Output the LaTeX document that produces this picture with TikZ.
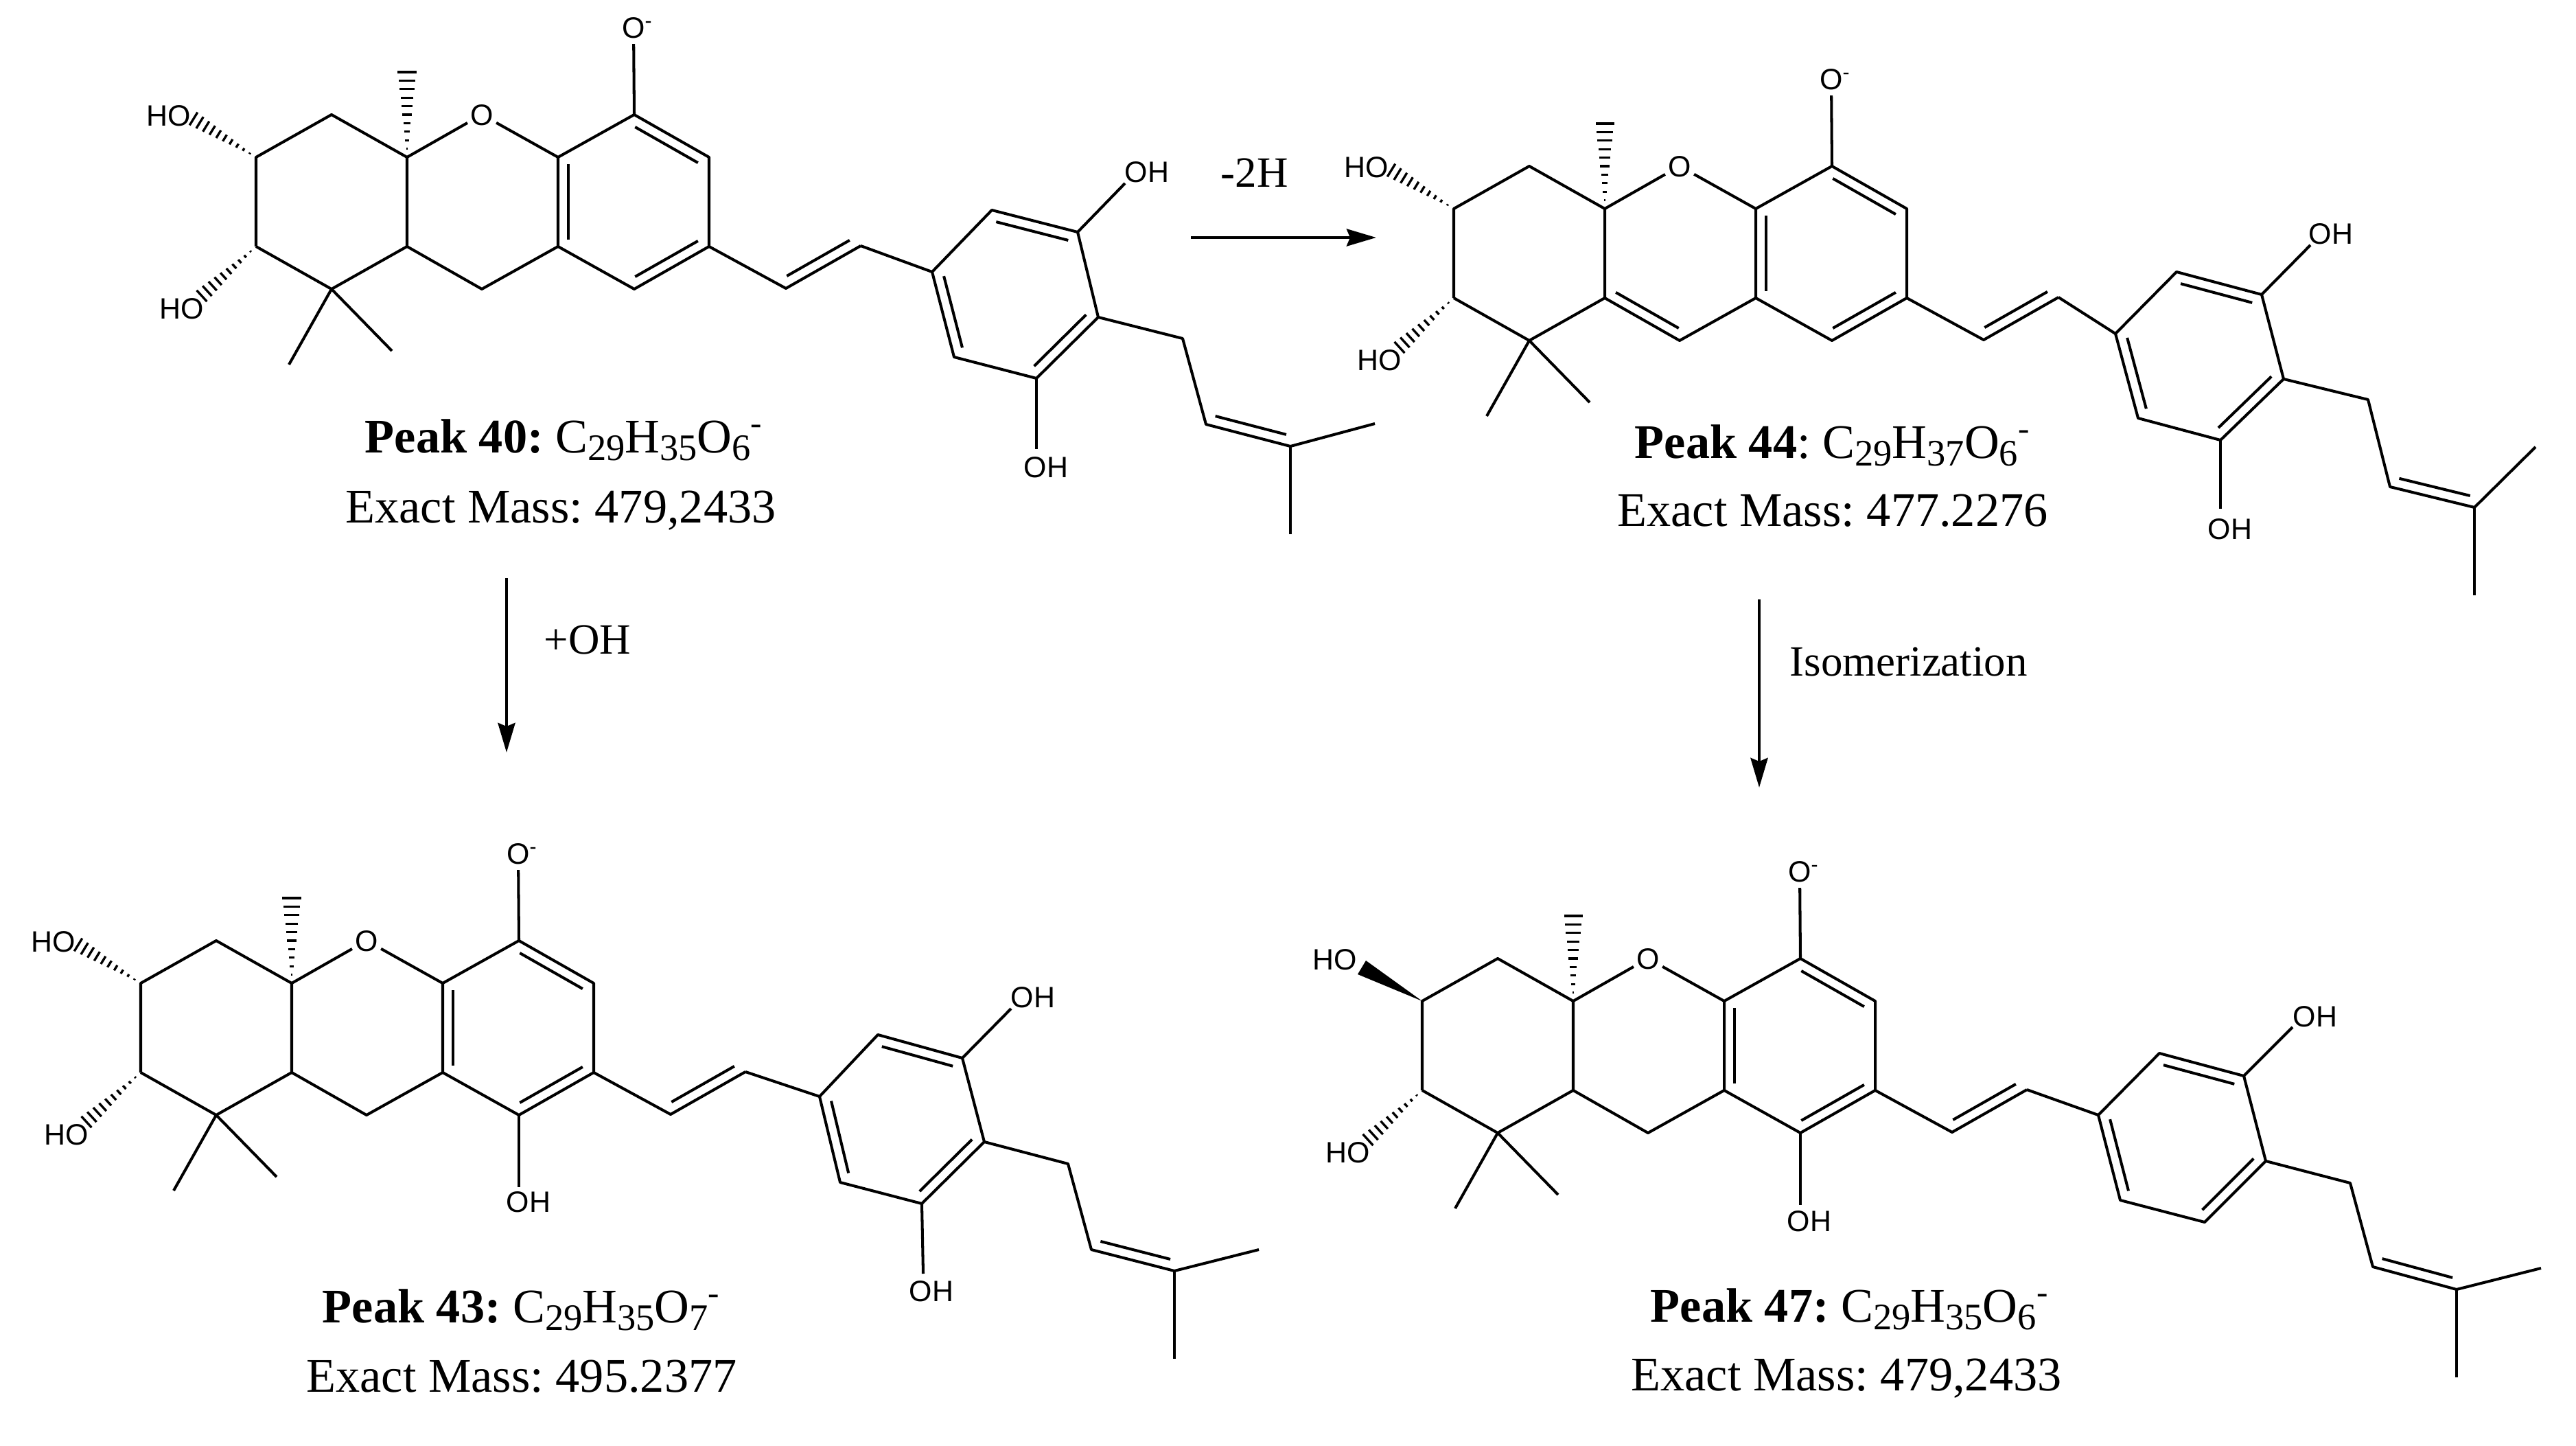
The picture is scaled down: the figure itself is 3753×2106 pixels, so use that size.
\documentclass[tikz,border=0pt]{standalone}
\usepackage{fontspec}
\setmainfont{Liberation Serif}
\newfontfamily\atomfont{Liberation Sans}
\usetikzlibrary{calc,arrows.meta}
\frenchspacing

\tikzset{
  bondline/.style={line width=1.15pt,line join=round},
  hashline/.style={line width=.95pt},
  atomlbl/.style={inner sep=0pt,text height=.31cm,text depth=0pt,font=\atomfont\fontsize{12.2}{14}\selectfont},
  ringatom/.style={atomlbl,circle,minimum size=.47cm},
  masslbl/.style={inner sep=0pt,anchor=base,font=\fontsize{20}{24}\selectfont},
  steplbl/.style={inner sep=0pt,anchor=base west,font=\fontsize{17.9}{21}\selectfont},
  steparrow/.style={line width=1.3pt,-{Stealth[length=.43cm,width=.25cm,inset=.05cm]}}
}

\newcommand{\subnum}[1]{\raisebox{-.11cm}{\fontsize{15.5}{16}\selectfont #1}}
\newcommand{\dbl}[2]{\draw[bondline] ($(#1)!.08!(#2)!.15cm!-90:(#2)$) -- ($(#2)!.08!(#1)!.15cm!90:(#1)$);}
\newcommand{\hashbond}[3]{\foreach \t in {.1,.2,...,1}{\draw[hashline] ($(#1)!\t!(#2)!\t*#3!90:(#1)$) -- ($(#1)!\t!(#2)!\t*#3!-90:(#1)$);}}

\newcommand{\coremol}[1]{%
\begin{scope}[shift={(#1)}]
\foreach \nm/\pos in {c1/{-220,0},c2/{-110,-62},c3/{0,0},c4/{220,0},c5/{331,-62},c6/{440,0},c7/{440,130},c8/{331,192},c9/{220,130},c10/{109,192},c11/{0,130},c12/{-110,192},c13/{-220,130},mec/{0,-124},me1/{-172,302},me2/{-22,282},hae/{-311,-56},hbe/{-299,202},v1/{552,191},v2/{661,129},c8e/{331,297}}{\coordinate (\nm) at (\pos);}
\node[ringatom] (oring) at (109,-62) {O};
\node[ringatom] (oanion) at (330,-189) {O\rlap{\textsuperscript{-}}};
\node[atomlbl] (hoa) at (-347,-61) {HO};
\node[atomlbl] (hob) at (-328,220) {HO};
\end{scope}
\draw[bondline] (c13) -- (c1) -- (c2) -- (c3) -- (c11) -- (c12) -- (c13);
\draw[bondline] (c3) -- (oring) -- (c4) -- (c5) -- (c6) -- (c7) -- (c8) -- (c9) -- (c4);
\draw[bondline] (c11) -- (c10) -- (c9);
\draw[bondline] (c5) -- (oanion);
\draw[bondline] (me1) -- (c12) -- (me2);
\draw[bondline] (c7) -- (v1) -- (v2);
\dbl{c5}{c6}
\dbl{c7}{c8}
\dbl{c9}{c4}
\dbl{v2}{v1}
\hashbond{c3}{mec}{.135cm}
\hashbond{c13}{hbe}{.11cm}
}

\newcommand{\sidering}{%
\draw[bondline] (v2) -- (r1) -- (r2) -- (r3) -- (r4) -- (r5) -- (r6) -- (r1);
\draw[bondline] (r3) -- (ohe);
\draw[bondline] (r4) -- (p1) -- (p2) -- (p3) -- (p4);
\draw[bondline] (p3) -- (p5);
\dbl{r2}{r3}
\dbl{r4}{r5}
\dbl{r6}{r1}
\dbl{p3}{p2}
}

\begin{document}
\begin{tikzpicture}[x=0.01cm,y=-0.01cm]
\useasboundingbox (0,0) rectangle (3753,2106);

\begin{scope}[name prefix=a-]
\coremol{593,229}
\foreach \nm/\pos in {r1/{1358,396},r2/{1445,306},r3/{1570,338},r4/{1600,462},r5/{1510,551},r6/{1390,520},ohe/{1639,267},oe/{1510,654},p1/{1723,493},p2/{1757,618},p3/{1880,650},p4/{2003,617},p5/{1880,778}}{\coordinate (\nm) at (\pos);}
\sidering
\hashbond{c1}{hae}{.11cm}
\draw[bondline] (r5) -- (oe);
\node[atomlbl] (oh1) at (1671,250) {OH};
\node[atomlbl] (oh2) at (1524,680) {OH};
\node[masslbl] (peak) at (822,659) {\textbf{Peak 40:} C\subnum{29}H\subnum{35}O\subnum{6}\textsuperscript{-}};
\node[masslbl] (mass) at (817,761) {Exact Mass: 479,2433};
\end{scope}

\begin{scope}[name prefix=b-]
\coremol{2338,304}
\foreach \nm/\pos in {r1/{3082,486},r2/{3171,396},r3/{3295,429},r4/{3327,552},r5/{3235,641},r6/{3115,609},ohe/{3366,357},oe/{3235,741},p1/{3450,582},p2/{3482,709},p3/{3605,739},p4/{3694,651},p5/{3605,867}}{\coordinate (\nm) at (\pos);}
\sidering
\hashbond{c1}{hae}{.11cm}
\dbl{c10}{c11}
\draw[bondline] (r5) -- (oe);
\node[atomlbl] (oh1) at (3396,340) {OH};
\node[atomlbl] (oh2) at (3249,770) {OH};
\node[masslbl] (peak) at (2670,667) {\textbf{Peak 44}: C\subnum{29}H\subnum{37}O\subnum{6}\textsuperscript{-}};
\node[masslbl] (mass) at (2670,766) {Exact Mass: 477.2276};
\end{scope}

\begin{scope}[name prefix=c-]
\coremol{425,1432}
\foreach \nm/\pos in {r1/{1194,1597},r2/{1279,1507},r3/{1402,1541},r4/{1434,1663},r5/{1343,1753},r6/{1224,1722},ohe/{1473,1469},oe/{1345,1855},p1/{1556,1695},p2/{1590,1820},p3/{1711,1851},p4/{1834,1820},p5/{1711,1979}}{\coordinate (\nm) at (\pos);}
\sidering
\hashbond{c1}{hae}{.11cm}
\draw[bondline] (r5) -- (oe);
\draw[bondline] (c8) -- (c8e);
\node[atomlbl] (oh1) at (1505,1452) {OH};
\node[atomlbl] (oh2) at (1357,1880) {OH};
\node[atomlbl] (oh3) at (770,1750) {OH};
\node[masslbl] (peak) at (760,1926) {\textbf{Peak 43:} C\subnum{29}H\subnum{35}O\subnum{7}\textsuperscript{-}};
\node[masslbl] (mass) at (760,2027) {Exact Mass: 495.2377};
\end{scope}

\begin{scope}[name prefix=d-]
\coremol{2292,1458}
\foreach \nm/\pos in {r1/{3057,1624},r2/{3146,1534},r3/{3269,1567},r4/{3301,1691},r5/{3212,1780},r6/{3089,1748},ohe/{3340,1496},p1/{3424,1723},p2/{3457,1845},p3/{3579,1878},p4/{3702,1847},p5/{3579,2006},wa/{1978,1419},wb/{1990,1399}}{\coordinate (\nm) at (\pos);}
\sidering
\fill (c1) -- (wa) -- (wb) -- cycle;
\draw[bondline] (c8) -- (c8e);
\node[atomlbl] (oh1) at (3373,1480) {OH};
\node[atomlbl] (oh3) at (2636,1778) {OH};
\node[masslbl] (peak) at (2695,1925) {\textbf{Peak 47:} C\subnum{29}H\subnum{35}O\subnum{6}\textsuperscript{-}};
\node[masslbl] (mass) at (2690,2025) {Exact Mass: 479,2433};
\end{scope}

\coordinate (dehyd0) at (1735,346);
\coordinate (dehyd1) at (2005,346);
\draw[steparrow] (dehyd0) -- (dehyd1);
\node[steplbl] (dehydlbl) at (1778,272) {-2H};

\coordinate (oxid0) at (738,842);
\coordinate (oxid1) at (738,1096);
\draw[steparrow] (oxid0) -- (oxid1);
\node[steplbl] (oxidlbl) at (792,952) {+OH};

\coordinate (isom0) at (2563,873);
\coordinate (isom1) at (2563,1147);
\draw[steparrow] (isom0) -- (isom1);
\node[steplbl] (isomlbl) at (2607,984) {Isomerization};
\end{tikzpicture}
\end{document}
